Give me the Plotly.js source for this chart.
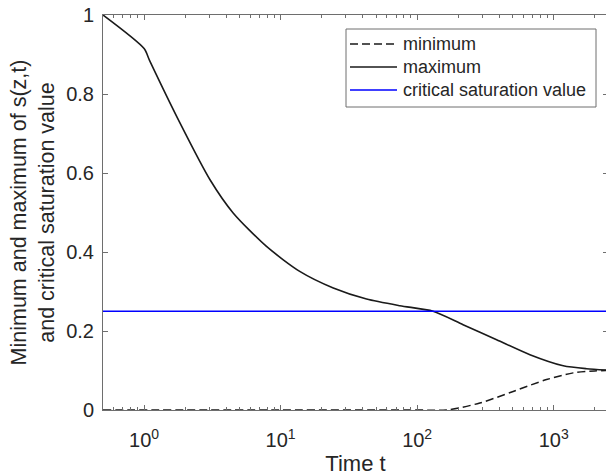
<!DOCTYPE html>
<html>
<head>
<meta charset="utf-8">
<script src="https://cdn.plot.ly/plotly-3.0.1.min.js"></script>
<style>
html, body { margin: 0; padding: 0; overflow: hidden; background: #fff; }
#chart { width: 620px; height: 476px; }
</style>
</head>
<body>
<div id="chart"></div>
<script>
// ---- data ----
var timeMax = [0.5, 1, 1.1, 1.83, 3.04, 4.49, 7.88, 13.8, 24.3, 42.6, 74.7, 131, 217, 382, 670, 1175, 1742, 2500];
var sMax    = [1.0, 0.915, 0.884, 0.727, 0.583, 0.499, 0.414, 0.351, 0.309, 0.281, 0.264, 0.25, 0.216, 0.178, 0.14, 0.112, 0.1045, 0.101];

var timeMin = [0.5, 10, 100, 164, 288, 505, 887, 1390, 2000, 2500];
var sMin    = [0, 0, 0, 0, 0.0177, 0.047, 0.077, 0.094, 0.099, 0.100];

var timeCrit = [0.5, 2500];
var sCrit    = [0.25, 0.25];

var seriesNames = ["minimum", "maximum", "critical saturation value"];

var xTickVals = [1, 10, 100, 1000];
var xTickText = ["10<sup>0</sup>", "10<sup>1</sup>", "10<sup>2</sup>", "10<sup>3</sup>"];
var yTickVals = [0, 0.2, 0.4, 0.6, 0.8, 1];
var yTickText = ["0", "0.2", "0.4", "0.6", "0.8", "1"];

// minor tick positions on the log axis (2..9 x 10^k)
var xMinorVals = [];
[0.1, 1, 10, 100, 1000].forEach(function (d) {
  for (var m = 2; m <= 9; m++) xMinorVals.push(m * d);
});

var FONT = "Liberation Sans, Arial, Helvetica, sans-serif";
var TXT = "#262626";
var AX = "#6e6e6e";
var LINECOL = "#1a1a1a";

var M = { l: 103, r: 12, t: 15, b: 66 };
var W = 620, H = 476;
var PW = W - M.l - M.r, PH = H - M.t - M.b;
function px(x) { return (x - M.l) / PW; }
function py(y) { return (H - M.b - y) / PH; }

var traceStyles = [
  { color: LINECOL, width: 1.5, dash: "8px,4px" },
  { color: LINECOL, width: 1.6 },
  { color: "#0000ff", width: 1.6 }
];

var traces = [
  { x: timeMin, y: sMin, name: seriesNames[0], mode: "lines",
    line: Object.assign({ shape: "spline", smoothing: 0.8 }, traceStyles[0]) },
  { x: timeMax, y: sMax, name: seriesNames[1], mode: "lines",
    line: Object.assign({ shape: "spline", smoothing: 0.7 }, traceStyles[1]) },
  { x: timeCrit, y: sCrit, name: seriesNames[2], mode: "lines",
    line: traceStyles[2] }
];

// hand-drawn legend box (MATLAB style)
var legBox = { x0: 346, x1: 596, y0: 29, y1: 107 };
var legRows = [44, 67, 90];
var shapes = [{
  type: "rect", xref: "paper", yref: "paper", layer: "above",
  x0: px(legBox.x0), x1: px(legBox.x1), y0: py(legBox.y1), y1: py(legBox.y0),
  fillcolor: "#ffffff", line: { color: AX, width: 1 }
}];
var annotations = [];
seriesNames.forEach(function (nm, i) {
  shapes.push({
    type: "line", xref: "paper", yref: "paper", layer: "above",
    x0: px(350), x1: px(397), y0: py(legRows[i]), y1: py(legRows[i]),
    line: { color: traceStyles[i].color, width: traceStyles[i].width, dash: traceStyles[i].dash || "solid" }
  });
  annotations.push({
    xref: "paper", yref: "paper", x: px(401), y: py(legRows[i]),
    xanchor: "left", yanchor: "middle", showarrow: false, text: nm,
    font: { family: FONT, size: 18, color: TXT }
  });
});

var layout = {
  width: W, height: H,
  margin: { l: M.l, r: M.r, t: M.t, b: M.b, pad: 0 },
  paper_bgcolor: "#ffffff", plot_bgcolor: "#ffffff",
  font: { family: FONT, color: TXT, size: 20 },
  showlegend: false,
  shapes: shapes,
  annotations: annotations,
  xaxis: {
    type: "log",
    range: [Math.log10(0.5), Math.log10(2500)],
    tickmode: "array", tickvals: xTickVals, ticktext: xTickText,
    ticks: "inside", ticklen: 5, tickwidth: 1, tickcolor: AX,
    minor: { tickmode: "array", tickvals: xMinorVals, ticks: "inside", ticklen: 3, tickcolor: AX, showgrid: false },
    showline: true, linecolor: AX, linewidth: 1, mirror: "ticks",
    showgrid: false, zeroline: false,
    tickfont: { family: FONT, size: 20, color: TXT },
    ticklabelstandoff: 12,
    title: { text: "Time t", font: { family: FONT, size: 22, color: TXT }, standoff: 6 }
  },
  yaxis: {
    range: [0, 1],
    tickmode: "array", tickvals: yTickVals, ticktext: yTickText,
    ticks: "inside", ticklen: 5, tickwidth: 1, tickcolor: AX,
    showline: true, linecolor: AX, linewidth: 1, mirror: "ticks",
    showgrid: false, zeroline: false,
    tickfont: { family: FONT, size: 20, color: TXT },
    ticklabelstandoff: 4,
    title: { text: "Minimum and maximum of s(z,t)<br>and critical saturation value",
             font: { family: FONT, size: 21.5, color: TXT }, standoff: 5 }
  }
};

Plotly.newPlot("chart", traces, layout, { displayModeBar: false, staticPlot: true });
</script>
</body>
</html>
